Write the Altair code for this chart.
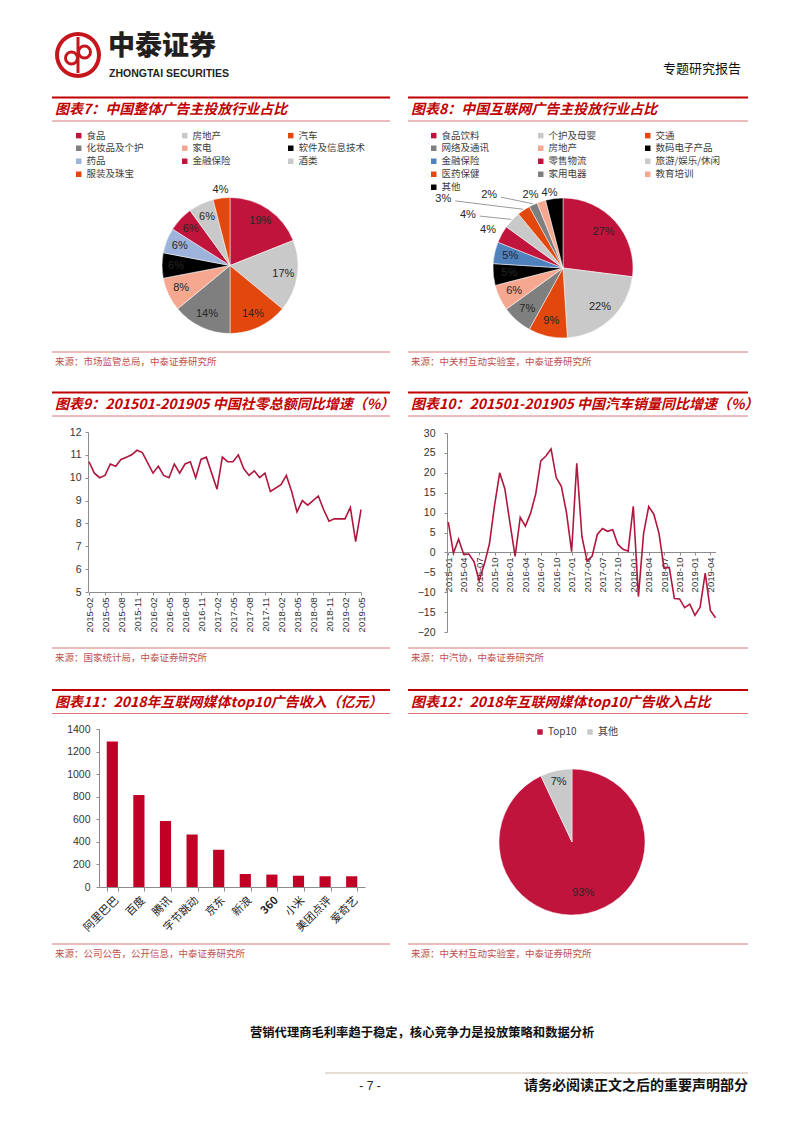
import altair as alt
import pandas as pd

W, H = 786, 1100
MARGIN = 8


def X(x):
    return x - MARGIN


def Y(y):
    return y - MARGIN


CJK = "Noto Sans CJK SC"
LAT = "Liberation Sans"
TITLE_RED = "#C00000"
THIN_RED = "#D9777A"
SRC_RED = "#C0504D"
CRIMSON = "#C0143C"
LIGHTGRAY = "#C9C9C9"
ORANGE = "#E2480E"
GRAY = "#7F7F7F"
SALMON = "#F5A78F"
BLACK = "#000000"
LIGHTBLUE = "#9DB3DC"
BLUE = "#4F81BD"
LINE_RED = "#B0173F"
BAR_RED = "#C00025"

# ---------------- data ----------------
ind_cats = ["食品", "房地产", "汽车", "化妆品及个护", "家电", "软件及信息技术",
            "药品", "金融保险", "酒类", "服装及珠宝"]
ind_vals = [19, 17, 14, 14, 8, 6, 6, 6, 6, 4]
ind_colors = [CRIMSON, LIGHTGRAY, ORANGE, GRAY, SALMON, BLACK,
              LIGHTBLUE, CRIMSON, LIGHTGRAY, ORANGE]

net_cats = ["食品饮料", "个护及母婴", "交通", "网络及通讯", "房地产", "数码电子产品",
            "金融保险", "零售物流", "旅游/娱乐/休闲", "医药保健", "家用电器", "教育培训", "其他"]
net_vals = [27, 22, 9, 7, 6, 5, 5, 4, 4, 3, 2, 2, 4]
net_colors = [CRIMSON, LIGHTGRAY, ORANGE, GRAY, SALMON, BLACK,
              BLUE, CRIMSON, LIGHTGRAY, ORANGE, GRAY, SALMON, BLACK]

retail_axis = [f"{y}-{m:02d}" for y in range(2015, 2020) for m in range(1, 13)
               if (2015, 2) <= (y, m) <= (2019, 5)]
retail_months = [f"{y}-{m:02d}" for y in range(2015, 2020) for m in range(2, 13)
                 if (y, m) <= (2019, 5)]
retail_values = [10.7, 10.2, 10.0, 10.1, 10.6, 10.5, 10.8, 10.9, 11.0, 11.2, 11.1,
                 10.2, 10.5, 10.1, 10.0, 10.6, 10.2, 10.6, 10.7, 10.0, 10.8, 10.9,
                 9.5, 10.9, 10.7, 10.7, 11.0, 10.4, 10.1, 10.3, 10.0, 10.2, 9.4,
                 9.7, 10.1, 9.4, 8.5, 9.0, 8.8, 9.0, 9.2, 8.6, 8.1, 8.2,
                 8.2, 8.7, 7.2, 8.6]
retail_ticks = ["2015-02", "2015-05", "2015-08", "2015-11", "2016-02", "2016-05",
                "2016-08", "2016-11", "2017-02", "2017-05", "2017-08", "2017-11",
                "2018-02", "2018-05", "2018-08", "2018-11", "2019-02", "2019-05"]

auto_months = [f"{y}-{m:02d}" for y in range(2015, 2020) for m in range(1, 13)
               if (y, m) <= (2019, 5)]
auto_values = [7.6, -0.2, 3.3, -0.5, -0.4, -2.3, -7.1, -3.0, 2.1, 11.8, 20.0, 16.0,
               7.4, -1.0, 8.8, 6.6, 9.8, 14.6, 23.0, 24.2, 26.0, 18.8, 16.6, 10.0,
               0.2, 22.4, 4.0, -2.2, -0.9, 4.5, 6.0, 5.3, 5.7, 2.0, 0.8, 0.3,
               11.6, -11.1, 4.7, 11.5, 9.6, 4.8, -4.0, -3.8, -11.6, -11.7, -13.9, -13.0,
               -15.8, -13.8, -5.2, -14.6, -16.4]
auto_ticks = ["2015-01", "2015-04", "2015-07", "2015-10", "2016-01", "2016-04",
              "2016-07", "2016-10", "2017-01", "2017-04", "2017-07", "2017-10",
              "2018-01", "2018-04", "2018-07", "2018-10", "2019-01", "2019-04"]

media_names = ["阿里巴巴", "百度", "腾讯", "字节跳动", "京东", "新浪", "360", "小米", "美团点评", "爱奇艺"]
media_revenue = [1290, 815, 585, 465, 330, 115, 110, 100, 95, 95]

top_cats = ["Top10", "其他"]
top_vals = [93, 7]
top_colors = [CRIMSON, LIGHTGRAY]

dummy = pd.DataFrame({"d": [0]})


# ---------------- helpers ----------------
def txt(s, x, y, size=12, color="#000000", weight="normal", style="normal",
        align="left", font=CJK, baseline="middle"):
    return alt.Chart(dummy).mark_text(
        text=s, fontSize=size, color=color, fontWeight=weight, fontStyle=style,
        align=align, baseline=baseline, font=font
    ).encode(x=alt.value(X(x)), y=alt.value(Y(y)))


def hline(x0, x1, y, color, width):
    return alt.Chart(dummy).mark_rule(color=color, strokeWidth=width).encode(
        x=alt.value(X(x0)), x2=alt.value(X(x1)), y=alt.value(Y(y)))


def ring(cx, cy, r_out, r_in, color):
    return alt.Chart(dummy).mark_arc(
        radius=r_out, radius2=r_in, theta=0, theta2=6.2832, color=color
    ).encode(x=alt.value(X(cx)), y=alt.value(Y(cy)))


def vline(x, y0, y1, color, width):
    return alt.Chart(dummy).mark_rule(color=color, strokeWidth=width).encode(
        x=alt.value(X(x)), y=alt.value(Y(y0)), y2=alt.value(Y(y1)))


def panel(x0, x1, ytop, title, ysrc, source):
    return [
        hline(x0, x1, ytop, TITLE_RED, 2),
        txt(title, x0 + 3, ytop + 12.5, 14, TITLE_RED, "bold", "italic"),
        hline(x0, x1, ytop + 23.5, THIN_RED, 1),
        hline(x0, x1, ysrc, THIN_RED, 1),
        txt(source, x0 + 3, ysrc + 10, 9.5, SRC_RED),
    ]


def axis(**kw):
    d = dict(title=None, grid=False, domainColor="#8C8C8C", tickColor="#8C8C8C",
             labelColor="#333333", labelFont=LAT, labelFontSize=10, tickSize=4,
             labelPadding=3)
    d.update(kw)
    return alt.Axis(**d)


def pie(cats, vals, colors, cx, cy, r, in_r, outside, leaders, legend):
    df = pd.DataFrame({"cat": cats, "val": vals, "idx": list(range(len(cats)))})
    CX, CY = X(cx), Y(cy)
    base = alt.Chart(df)
    arc = base.mark_arc(radius=r, stroke="white", strokeWidth=0.5).encode(
        theta=alt.Theta("val:Q", stack=True),
        order=alt.Order("idx:Q"),
        color=alt.Color("cat:N", scale=alt.Scale(domain=cats, range=colors), legend=legend),
        x=alt.value(CX), y=alt.value(CY))
    r_expr, s_expr = str(in_r), "0"
    for k, (rr, sh) in outside.items():
        r_expr = f"datum.cat === '{k}' ? {rr} : ({r_expr})"
        s_expr = f"datum.cat === '{k}' ? {sh} : ({s_expr})"
    placed = (base
              .transform_window(cum="sum(val)", sort=[alt.SortField("idx")])
              .transform_joinaggregate(tot="sum(val)")
              .transform_calculate(mid="2*PI*(datum.cum - datum.val/2)/datum.tot",
                                   lr=r_expr, sh=s_expr, lab="datum.val + '%'")
              .transform_calculate(la="datum.mid + datum.sh*PI/180")
              .transform_calculate(lx=f"{CX} + datum.lr*sin(datum.la)",
                                   ly=f"{CY} - datum.lr*cos(datum.la)",
                                   ex=f"{CX} + {r + 1}*sin(datum.mid)",
                                   ey=f"{CY} - {r + 1}*cos(datum.mid)"))
    text = placed.mark_text(font=LAT, fontSize=11, color="#262626").encode(
        x=alt.X("lx:Q", scale=None, axis=None),
        y=alt.Y("ly:Q", scale=None, axis=None),
        text="lab:N")
    out = [arc, text]
    if leaders:
        lead = (placed
                .transform_filter(alt.FieldOneOfPredicate(field="cat", oneOf=leaders))
                .transform_calculate(d="sqrt(pow(datum.lx-datum.ex,2)+pow(datum.ly-datum.ey,2))")
                .transform_calculate(tx="datum.lx - (datum.lx-datum.ex)*12/datum.d",
                                     ty="datum.ly - (datum.ly-datum.ey)*12/datum.d"))
        out.append(lead.mark_rule(color="#808080", strokeWidth=0.8).encode(
            x=alt.X("ex:Q", scale=None, axis=None),
            y=alt.Y("ey:Q", scale=None, axis=None),
            x2="tx:Q", y2="ty:Q"))
    return out


def grid_legend(x, y, col_pad):
    return alt.Legend(title=None, orient="none", legendX=X(x), legendY=Y(y), columns=3,
                      direction="horizontal", gridAlign="all", columnPadding=col_pad,
                      rowPadding=2, symbolType="square", symbolSize=30, symbolStrokeWidth=0,
                      labelFont=CJK, labelFontSize=9.5, labelColor="#404040",
                      labelOffset=3, padding=0)


layers = []

# ---------------- header ----------------
layers += [
    ring(78, 55, 23, 19, "#C4161C"),
    vline(78, 37, 73, "#C4161C", 3),
    ring(71.5, 58, 7.5, 4.5, "#C4161C"),
    ring(84.5, 52, 7.5, 4.5, "#C4161C"),
    txt("中泰证券", 108, 47, 27, "#231F20", 900),
    txt("ZHONGTAI SECURITIES", 109, 73.5, 10.5, "#231F20", "bold", font=LAT),
    txt("专题研究报告", 741, 69, 13, "#111111", align="right"),
]

# ---------------- panel decorations ----------------
layers += panel(52, 390, 97.5, "图表7：中国整体广告主投放行业占比", 352, "来源：市场监管总局，中泰证券研究所")
layers += panel(408, 748, 97.5, "图表8：中国互联网广告主投放行业占比", 352, "来源：中关村互动实验室，中泰证券研究所")
layers += panel(52, 390, 392.5, "图表9：201501-201905 中国社零总额同比增速（%）", 648, "来源：国家统计局，中泰证券研究所")
layers += panel(408, 748, 392.5, "图表10：201501-201905 中国汽车销量同比增速（%）", 648, "来源：中汽协，中泰证券研究所")
layers += panel(52, 390, 690, "图表11：2018年互联网媒体top10广告收入（亿元）", 944, "来源：公司公告，公开信息，中泰证券研究所")
layers += panel(408, 748, 690, "图表12：2018年互联网媒体top10广告收入占比", 944, "来源：中关村互动实验室，中泰证券研究所")

# ---------------- pies ----------------
layers += pie(ind_cats, ind_vals, ind_colors, 230, 265.5, 68, 54,
              {"服装及珠宝": (76, 0)}, [], grid_legend(74, 130.5, 26))
layers += pie(net_cats, net_vals, net_colors, 563, 268, 70, 54,
              {"零售物流": (84, -2), "旅游/娱乐/休闲": (109, -14), "医药保健": (138, -26),
               "家用电器": (104, -20), "教育培训": (80, -6), "其他": (76, -3)},
              ["旅游/娱乐/休闲", "医药保健", "家用电器"], grid_legend(429, 130.5, 30))
layers += pie(top_cats, top_vals, top_colors, 572, 842, 73, 52,
              {"其他": (61, 0)}, [],
              alt.Legend(title=None, orient="none", legendX=X(535), legendY=Y(727),
                         direction="horizontal", columnPadding=8, symbolType="square",
                         symbolSize=30, symbolStrokeWidth=0, labelFont=CJK, labelFontSize=10,
                         labelColor="#404040", labelOffset=3, padding=0))

# ---------------- line chart 9 ----------------
retail_df = pd.DataFrame({"m": retail_months, "v": retail_values})
layers.append(alt.Chart(retail_df).mark_line(color=LINE_RED, strokeWidth=1.6).encode(
    x=alt.X("m:O", scale=alt.Scale(type="point", domain=retail_axis, range=[X(89), X(361)], padding=0),
            axis=axis(orient="bottom", offset=Y(592) - H, values=retail_ticks, labelAngle=-90,
                      labelFontSize=9.5, labelOverlap=False, tickSize=3, labelPadding=2)),
    y=alt.Y("v:Q", scale=alt.Scale(domain=[5, 12], range=[Y(592), Y(432)], nice=False, zero=False),
            axis=axis(orient="left", offset=-X(88), values=list(range(5, 13)), tickSize=3,
                      labelPadding=4, labelFontSize=10.5))))

# ---------------- line chart 10 ----------------
auto_df = pd.DataFrame({"m": auto_months, "v": auto_values})
layers.append(alt.Chart(auto_df).mark_line(color=LINE_RED, strokeWidth=1.6).encode(
    x=alt.X("m:O", scale=alt.Scale(type="point", domain=auto_months, range=[X(448.3), X(715.5)], padding=0),
            axis=axis(orient="bottom", offset=Y(552) - H, values=auto_ticks, labelAngle=-90,
                      labelFontSize=9.5, labelOverlap=False, tickSize=3, labelPadding=2)),
    y=alt.Y("v:Q", scale=alt.Scale(domain=[-20, 30], range=[Y(632), Y(433)], nice=False, zero=False),
            axis=axis(orient="left", offset=-X(447), values=list(range(-20, 31, 5)), tickSize=3,
                      labelPadding=9, labelFontSize=10.5))))

# ---------------- bar chart 11 ----------------
media_df = pd.DataFrame({"n": media_names, "v": media_revenue})
layers.append(alt.Chart(media_df).mark_bar(color=BAR_RED).encode(
    x=alt.X("n:N", sort=media_names,
            scale=alt.Scale(domain=media_names, range=[X(99), X(365)], paddingInner=0.58, paddingOuter=0.29),
            axis=axis(orient="bottom", offset=Y(887) - H, labelAngle=-45, labelFont=CJK,
                      labelFontSize=11, labelColor="#222222", tickBand="extent", labelPadding=3,
                      labelOverlap=False,
                      labelFontWeight={"condition": {"test": "datum.value === '360'", "value": "bold"},
                                       "value": "normal"})),
    y=alt.Y("v:Q", scale=alt.Scale(domain=[0, 1400], range=[Y(887), Y(729)], nice=False),
            axis=axis(orient="left", offset=-X(99), values=list(range(0, 1401, 200)), tickSize=3,
                      labelPadding=6, labelFontSize=10.5, format="d"))))

# ---------------- body text & footer ----------------
layers += [
    txt("营销代理商毛利率趋于稳定，核心竞争力是投放策略和数据分析", 250, 1033, 12.3, "#111111", "bold"),
    hline(325, 748, 1073, "#CBB9A8", 1),
    txt("- 7 -", 370, 1086, 12, "#222222", align="center", font=LAT),
    txt("请务必阅读正文之后的重要声明部分", 748, 1086, 14, "#111111", "bold", align="right"),
]

chart = (alt.layer(*layers)
         .resolve_scale(x="independent", y="independent", color="independent", theta="independent")
         .properties(width=W, height=H, padding=0, autosize=alt.AutoSizeParams(type="none"),
                     background="white")
         .configure_view(strokeWidth=0))

chart.save("out.html", embed_options={"renderer": "svg", "actions": False})
